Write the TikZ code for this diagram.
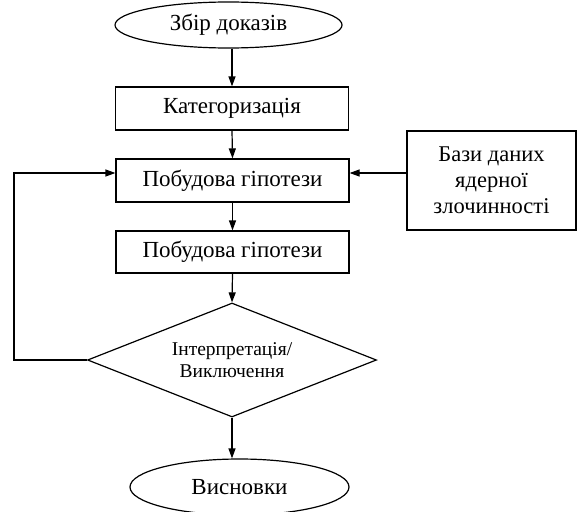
\documentclass[tikz,border=0pt]{standalone}
\usepackage{fontspec}
\setmainfont{Liberation Serif}
\usetikzlibrary{shapes.geometric,arrows.meta}
\tikzset{
  box/.style={draw, line width=1.2pt, rectangle, minimum width=233pt, minimum height=43pt, inner sep=0pt, font=\fontsize{23}{27}\selectfont},
  oval/.style={draw, line width=1.2pt, ellipse, inner sep=0pt, font=\fontsize{23}{27}\selectfont},
  decision/.style={draw, line width=1.2pt, diamond, aspect=2.5, inner sep=0pt, minimum width=289pt, minimum height=114pt, align=center, font=\fontsize{19.5}{22}\selectfont},
  sidebox/.style={draw, line width=1.2pt, rectangle, minimum width=169pt, minimum height=99pt, inner sep=0pt, align=center, font=\fontsize{22.5}{26}\selectfont},
  conn/.style={line width=1.2pt, -{Triangle[length=10pt,width=7pt]}},
}
\begin{document}
\begin{tikzpicture}[x=1pt,y=-1pt]
\useasboundingbox (0,0) rectangle (577,511);
\node[oval, minimum width=227pt, minimum height=46pt] (e1) at (228.5,25) {Збір доказів};
\node[box] (b0) at (232,108.5) {Категоризація};
\node[box] (b1) at (232.5,180.5) {Побудова гіпотези};
\node[box, minimum height=42pt] (b2) at (232.5,252) {Побудова гіпотези};
\node[decision] (d) at (232,360) {Інтерпретація/\\Виключення};
\node[oval, minimum width=219pt, minimum height=56pt] (e2) at (239.5,487) {Висновки};
\node[sidebox] (rb) at (491.5,180.5) {Бази даних\\ядерної\\злочинності};
\coordinate (c) at (14,360);
\draw[conn] (e1.south -| b0.north) -- (b0.north);
\draw[conn] (b0.south) -- (b1.north);
\draw[conn] (b1.south) -- (b2.north);
\draw[conn] (b2.south) -- (d.north);
\draw[conn] (d.south) -- (d.south |- e2.north);
\draw[conn] (d.west) -- (c) |- ([yshift=7.5pt]b1.west);
\draw[conn] ([yshift=7.5pt]rb.west) -- ([yshift=7.5pt]b1.east);
\end{tikzpicture}
\end{document}
